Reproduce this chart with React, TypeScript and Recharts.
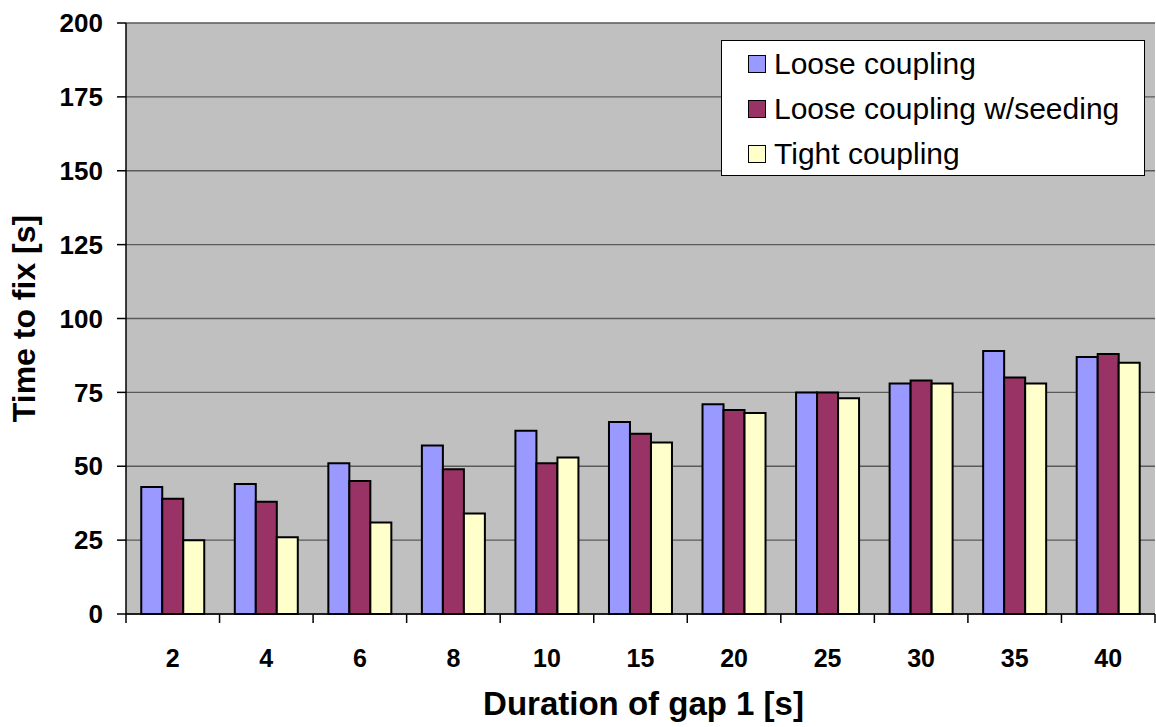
import React from "react";
import {
  BarChart,
  Bar,
  XAxis,
  YAxis,
  CartesianGrid,
  Legend,
} from "recharts";

const gapDurations = ["2", "4", "6", "8", "10", "15", "20", "25", "30", "35", "40"];
const looseCoupling = [43, 44, 51, 57, 62, 65, 71, 75, 78, 89, 87];
const looseSeeding = [39, 38, 45, 49, 51, 61, 69, 75, 79, 80, 88];
const tightCoupling = [25, 26, 31, 34, 53, 58, 68, 73, 78, 78, 85];
const yTicks = [0, 25, 50, 75, 100, 125, 150, 175, 200];

const seriesNames = ["Loose coupling", "Loose coupling w/seeding", "Tight coupling"];
const seriesColors = ["#9999FF", "#993366", "#FFFFCC"];

const FONT = "'Liberation Sans', Arial, sans-serif";

const data = gapDurations.map((name, i) => ({
  name,
  loose: looseCoupling[i],
  seeding: looseSeeding[i],
  tight: tightCoupling[i],
}));

// label sits in the middle of the band, tick marks go on the band edges
const CategoryTick = ({ x, y, payload, index }: any) => {
  const half = payload.offset ?? 0;
  const last = index === gapDurations.length - 1;
  return (
    <g>
      <line x1={x - half} y1={y} x2={x - half} y2={y + 9} stroke="#000" strokeWidth={1.5} />
      {last && <line x1={x + half} y1={y} x2={x + half} y2={y + 9} stroke="#000" strokeWidth={1.5} />}
      <text
        x={x}
        y={y + 53}
        textAnchor="middle"
        fontFamily={FONT}
        fontSize={25}
        fontWeight="bold"
        fill="#000"
      >
        {payload.value}
      </text>
    </g>
  );
};

const LegendBox = () => (
  <div style={{ fontFamily: FONT, fontSize: 30, color: "#000" }}>
    {seriesNames.map((name, i) => (
      <div
        key={name}
        style={{ display: "flex", alignItems: "center", height: 45, paddingLeft: 26 }}
      >
        <span
          style={{
            width: 18,
            height: 18,
            background: seriesColors[i],
            border: "1px solid #000",
            marginRight: 8,
            boxSizing: "border-box",
          }}
        />
        <span>{name}</span>
      </div>
    ))}
  </div>
);

const App: React.FC = () => {
  return (
    <div style={{ position: "absolute", left: 0, top: 0, width: 1156, height: 727, background: "#fff" }}>
      <BarChart
        width={1156}
        height={727}
        data={data}
        margin={{ top: 23, right: 1, left: 0, bottom: 0 }}
        barCategoryGap="16.3%"
        barGap={0}
      >
        <CartesianGrid
          vertical={false}
          fill="#C0C0C0"
          stroke="#5a5a5a"
          strokeWidth={1.3}
        />
        <XAxis
          dataKey="name"
          interval={0}
          height={113}
          tickSize={0}
          tickMargin={0}
          tickLine={false}
          axisLine={{ stroke: "#000", strokeWidth: 1.5 }}
          tick={<CategoryTick />}
          label={({ viewBox }: any) => (
            <text
              x={viewBox.x + viewBox.width / 2 + 3}
              y={viewBox.y + 101}
              textAnchor="middle"
              fontFamily={FONT}
              fontSize={33}
              fontWeight="bold"
              fill="#000"
            >
              Duration of gap 1 [s]
            </text>
          )}
        />
        <YAxis
          width={126}
          domain={[0, 200]}
          ticks={yTicks}
          interval={0}
          tickSize={9}
          tickMargin={14}
          axisLine={{ stroke: "#000", strokeWidth: 1.5 }}
          tickLine={{ stroke: "#000", strokeWidth: 1.5 }}
          tick={{ fontFamily: FONT, fontSize: 26, fontWeight: "bold", fill: "#000" }}
          label={({ viewBox }: any) => {
            const cx = viewBox.x + 35;
            const cy = viewBox.y + viewBox.height / 2;
            return (
              <text
                x={cx}
                y={cy}
                transform={`rotate(-90, ${cx}, ${cy})`}
                textAnchor="middle"
                fontFamily={FONT}
                fontSize={32}
                fontWeight="bold"
                fill="#000"
              >
                Time to fix [s]
              </text>
            );
          }}
        />
        {/* right edge of the plot frame */}
        <YAxis
          yAxisId="frame"
          orientation="right"
          width={0}
          domain={[0, 200]}
          tick={false}
          tickLine={false}
          axisLine={{ stroke: "#808080", strokeWidth: 1.5 }}
        />
        <Legend
          layout="vertical"
          align="center"
          verticalAlign="middle"
          content={<LegendBox />}
          wrapperStyle={{
            left: 721,
            top: 40,
            width: 424,
            height: 136,
            background: "#fff",
            border: "1px solid #000",
            boxSizing: "border-box",
          }}
        />
        <Bar dataKey="loose" name={seriesNames[0]} fill={seriesColors[0]} stroke="#000" strokeWidth={2} isAnimationActive={false} />
        <Bar dataKey="seeding" name={seriesNames[1]} fill={seriesColors[1]} stroke="#000" strokeWidth={2} isAnimationActive={false} />
        <Bar dataKey="tight" name={seriesNames[2]} fill={seriesColors[2]} stroke="#000" strokeWidth={2} isAnimationActive={false} />
      </BarChart>
    </div>
  );
};

export default App;
